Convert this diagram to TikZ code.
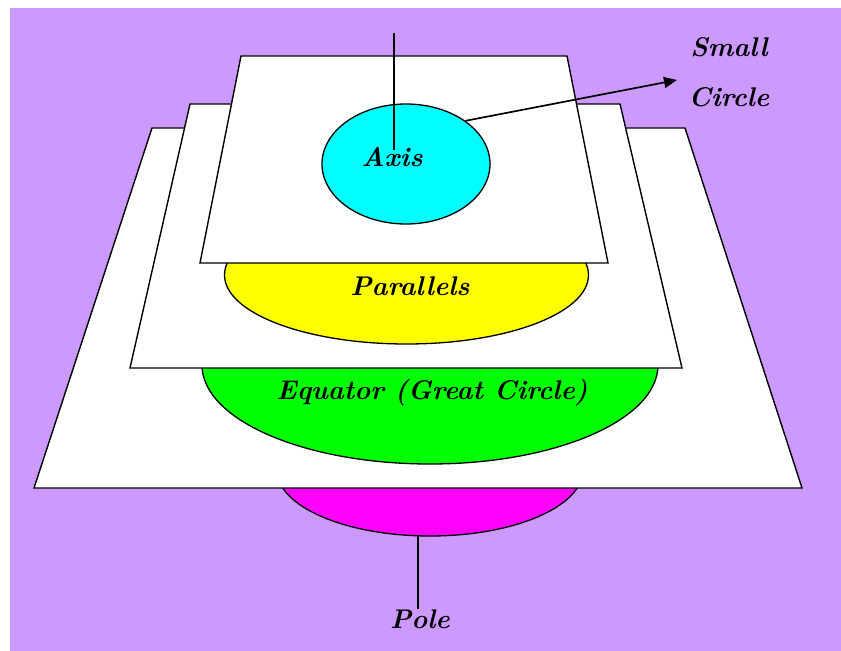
\documentclass[tikz,border=0pt]{standalone}
\usetikzlibrary{shapes.geometric,arrows.meta}
\definecolor{bgpurple}{HTML}{CC99FF}
\definecolor{cyanfill}{HTML}{00FFFF}
\definecolor{yellowfill}{HTML}{FFFF00}
\definecolor{greenfill}{HTML}{00FF00}
\definecolor{magentafill}{HTML}{FF00FF}
\begin{document}
\begin{tikzpicture}[x=1bp,y=-1bp,
  plane/.style={draw=black,fill=white,line width=1.4bp,line join=miter},
  disc/.style={ellipse,draw=black,line width=1.3bp,inner sep=0pt},
  lbl/.style={font=\fontsize{27bp}{32bp}\selectfont\bfseries\itshape,inner sep=0pt},
  stem/.style={line width=1.7bp}]
\useasboundingbox (0,0) rectangle (841,651);
\fill[bgpurple] (10,8) rectangle (841,651);
% pole disc
\node[disc,fill=magentafill,minimum width=306bp,minimum height=132bp] (pole) at (430,470) {};
% largest plane
\draw[plane] (152,128) -- (685,128) -- (802,488) -- (34,488) -- cycle;
% equator disc
\node[disc,fill=greenfill,minimum width=456bp,minimum height=198bp] (equator) at (430,365) {};
% middle plane
\draw[plane] (190,104) -- (620,104) -- (682,368) -- (130,368) -- cycle;
% parallels disc
\node[disc,fill=yellowfill,minimum width=364bp,minimum height=138bp] (parallels) at (406.5,275) {};
% top plane
\draw[plane] (241,56) -- (567,56) -- (608,263) -- (200,263) -- cycle;
% small circle
\node[disc,fill=cyanfill,minimum width=168bp,minimum height=120bp] (small) at (406,164) {};
% labels
\node[lbl] (axislbl) at (392,157) {Axis};
\node[lbl] (parlbl) at (410,286) {Parallels};
\node[lbl] (eqlbl) at (432,393) {Equator (Great Circle)};
\node[lbl,align=center,font=\fontsize{27bp}{50bp}\selectfont\bfseries\itshape] (smalllbl) at (729,72) {Small\\Circle};
\node[lbl] (polelbl) at (420,619) {Pole};
% connectors
\coordinate (axistop) at (394,33);
\coordinate (axisend) at (394,150);
\draw[stem] (axistop) -- (axisend);
\coordinate (arrowtip) at (677,80);
\draw[stem,-{Triangle[length=13bp,width=11bp]}] (small.36) -- (arrowtip);
\coordinate (polestart) at (418,535);
\draw[stem] (polestart) -- (polelbl.north -| polestart);
\end{tikzpicture}
\end{document}
